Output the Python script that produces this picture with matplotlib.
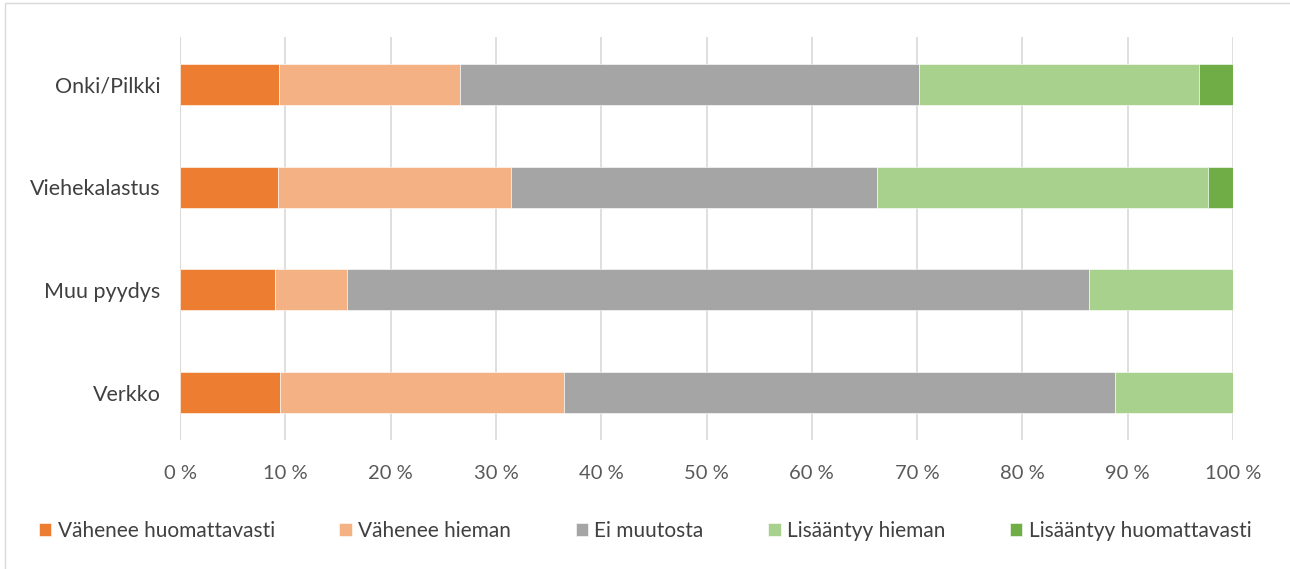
import numpy as np
import matplotlib.pyplot as plt
from matplotlib.patches import Rectangle

plt.rcParams['font.family'] = ['Lato', 'DejaVu Sans']

categories = ['Verkko', 'Muu pyydys', 'Viehekalastus', 'Onki/Pilkki']
series = ['Vähenee huomattavasti', 'Vähenee hieman', 'Ei muutosta',
          'Lisääntyy hieman', 'Lisääntyy huomattavasti']
vahenee_paljon = [9.5, 9.0, 9.3, 9.4]
vahenee_hieman = [27.0, 6.9, 22.1, 17.2]
ei_muutosta = [52.3, 70.4, 34.8, 43.6]
lisaantyy_hieman = [11.2, 13.7, 31.4, 26.6]
lisaantyy_paljon = [0.0, 0.0, 2.4, 3.2]
colors = ['#ED7D31', '#F4B183', '#A5A5A5', '#A9D18E', '#70AD47']
ticks = [f'{v} %' for v in range(0, 101, 10)]

values = [vahenee_paljon, vahenee_hieman, ei_muutosta, lisaantyy_hieman, lisaantyy_paljon]

fig = plt.figure(figsize=(12.9, 5.69), dpi=100)
ax = fig.add_axes([180 / 1290, 1 - 440 / 569, (1233 - 180) / 1290, (440 - 37) / 569])

y = np.arange(len(categories))
left = np.zeros(len(categories))
for vals, name, c in zip(values, series, colors):
    vals = np.array(vals)
    ax.barh(y, vals, left=left, height=0.4, color=c, label=name,
            edgecolor='white', linewidth=0.4, zorder=3)
    left += vals

ax.set_xlim(0, 100)
ax.set_ylim(-0.46, 3.46)
ax.set_xticks(range(0, 101, 10))
ax.set_xticklabels(ticks, fontsize=14.5, color='#595959')
ax.set_yticks(y)
ax.set_yticklabels(categories, fontsize=15.5, color='#404040')
ax.tick_params(axis='x', length=0, pad=18)
ax.tick_params(axis='y', length=0, pad=14)
ax.xaxis.grid(True, color='#D9D9D9', linewidth=1.2, zorder=0)
for s in ax.spines.values():
    s.set_visible(False)
ax.axvline(0, color='#D9D9D9', linewidth=1.2, zorder=1)

fig.legend(loc='center', bbox_to_anchor=(0.5, 1 - 531 / 569), ncol=5, frameon=False,
           fontsize=15, handlelength=0.6, handleheight=0.6, handletextpad=0.3,
           columnspacing=3.1, labelcolor='#404040')

fig.patches.append(Rectangle((5 / 1290, -0.01), 1.02, 1 - 3 / 569 + 0.01, transform=fig.transFigure,
                             fill=False, edgecolor='#D9D9D9', linewidth=1))

fig.savefig('out.png', dpi=100)
